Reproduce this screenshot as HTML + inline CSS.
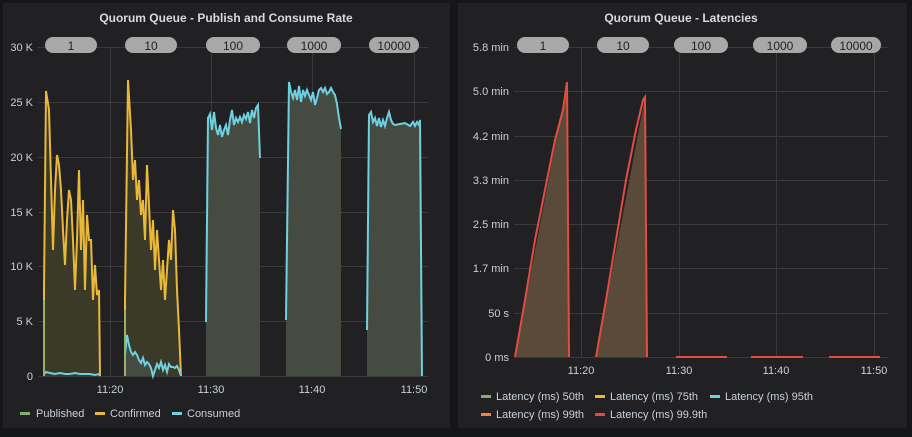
<!DOCTYPE html>
<html><head><style>
body{margin:0;background:#141619;width:912px;height:432px;overflow:hidden;font-family:"Liberation Sans",sans-serif}
</style></head><body>
<svg width="912" height="432" xmlns="http://www.w3.org/2000/svg" font-family="Liberation Sans, sans-serif">
<rect x="0" y="0" width="912" height="432" fill="#141619"/>
<rect x="3" y="3" width="447" height="425" fill="#212124"/>
<rect x="458" y="3" width="449" height="425" fill="#212124"/>
<text x="226" y="22" fill="#d8d9da" font-size="12" font-weight="bold" text-anchor="middle">Quorum Queue - Publish and Consume Rate</text>
<text x="681" y="22" fill="#d8d9da" font-size="12" font-weight="bold" text-anchor="middle">Quorum Queue - Latencies</text>
<g stroke="#3a3a3d" stroke-width="1">
<line x1="38" y1="47.5" x2="428" y2="47.5"/><line x1="38" y1="102.5" x2="428" y2="102.5"/><line x1="38" y1="157.5" x2="428" y2="157.5"/><line x1="38" y1="212.5" x2="428" y2="212.5"/><line x1="38" y1="266.5" x2="428" y2="266.5"/><line x1="38" y1="321.5" x2="428" y2="321.5"/><line x1="38" y1="376.5" x2="428" y2="376.5"/>
<line x1="110.5" y1="47" x2="110.5" y2="376"/><line x1="211.5" y1="47" x2="211.5" y2="376"/><line x1="312.5" y1="47" x2="312.5" y2="376"/><line x1="414.5" y1="47" x2="414.5" y2="376"/>
<line x1="514" y1="47.5" x2="888" y2="47.5"/><line x1="514" y1="91.5" x2="888" y2="91.5"/><line x1="514" y1="136.5" x2="888" y2="136.5"/><line x1="514" y1="180.5" x2="888" y2="180.5"/><line x1="514" y1="224.5" x2="888" y2="224.5"/><line x1="514" y1="268.5" x2="888" y2="268.5"/><line x1="514" y1="313.5" x2="888" y2="313.5"/><line x1="514" y1="357.5" x2="888" y2="357.5"/>
<line x1="581.5" y1="47" x2="581.5" y2="357"/><line x1="679.5" y1="47" x2="679.5" y2="357"/><line x1="776.5" y1="47" x2="776.5" y2="357"/><line x1="874.5" y1="47" x2="874.5" y2="357"/>
</g>
<g fill="#c7d0d9" font-size="11" text-anchor="end">
<text x="33" y="51">30 K</text><text x="33" y="106">25 K</text><text x="33" y="161">20 K</text><text x="33" y="216">15 K</text><text x="33" y="270">10 K</text><text x="33" y="325">5 K</text><text x="33" y="380">0</text>
<text x="509" y="51">5.8 min</text><text x="509" y="95">5.0 min</text><text x="509" y="140">4.2 min</text><text x="509" y="184">3.3 min</text><text x="509" y="228">2.5 min</text><text x="509" y="272">1.7 min</text><text x="509" y="317">50 s</text><text x="509" y="361">0 ms</text>
</g>
<g fill="#c7d0d9" font-size="11" text-anchor="middle">
<text x="110" y="163" dy="230">11:20</text><text x="211" y="393">11:30</text><text x="312" y="393">11:40</text><text x="414" y="393">11:50</text>
<text x="581" y="374">11:20</text><text x="679" y="374">11:30</text><text x="776" y="374">11:40</text><text x="874" y="374">11:50</text>
</g>
<!-- left series -->
<g>
<polygon fill="#3b3927" points="44,376 44,290 46,91 49,110 51,180 53,250 55,190 57,155 59,165 61,190 63,230 65,265 67,220 69,190 71,200 73,240 75,290 77,240 79,170 81,250 83,200 85,290 87,215 89,240 91,240 93,300 95,265 97,295 99,290 100,376"/>
<polygon fill="#3b3927" points="125,376 125,300 128,80 131,130 133,180 135,160 137,200 139,180 141,215 143,200 145,240 147,165 149,205 151,250 153,220 155,270 157,230 159,260 161,290 163,260 165,300 167,270 169,240 171,260 173,210 175,230 177,290 179,330 181,376"/>
<polygon fill="#454b40" points="125,376 125,355 127,335 129,345 131,352 133,355 135,352 137,355 139,360 141,363 143,358 145,365 147,362 149,364 151,368 153,376"/>
<polyline fill="none" stroke="#eab839" stroke-width="2" points="44,376 44,290 46,91 49,110 51,180 53,250 55,190 57,155 59,165 61,190 63,230 65,265 67,220 69,190 71,200 73,240 75,290 77,240 79,170 81,250 83,200 85,290 87,215 89,240 91,240 93,300 95,265 97,295 99,290 100,376"/>
<polyline fill="none" stroke="#eab839" stroke-width="2" points="125,376 125,300 128,80 131,130 133,180 135,160 137,200 139,180 141,215 143,200 145,240 147,165 149,205 151,250 153,220 155,270 157,230 159,260 161,290 163,260 165,300 167,270 169,240 171,260 173,210 175,230 177,290 179,330 181,376"/>
<polyline fill="none" stroke="#6ed0e0" stroke-width="2" points="44,374 46,372 50,373 55,374 60,373 65,374 70,374 75,373 80,374 85,374 90,374 95,375 99,374 100,376"/>
<polyline fill="none" stroke="#6ed0e0" stroke-width="2" points="125,355 127,335 129,345 131,352 133,355 135,352 137,355 139,360 141,363 143,358 145,365 147,362 149,364 151,368 153,376 155,370 157,364 159,368 161,362 163,370 165,365 167,372 169,364 171,367 173,367 175,368 177,366 179,370 181,376"/>
<line x1="44" y1="376" x2="44" y2="300" stroke="#7eb26d" stroke-width="1.5"/>
<line x1="125" y1="376" x2="125" y2="310" stroke="#7eb26d" stroke-width="1.5"/>
<polygon fill="#454b40" points="206,376 206,322 208,118 210,114 212,130 214,112 216,128 218,135 220,125 222,137 224,130 226,125 228,135 230,120 232,110 234,125 236,118 238,122 240,117 242,122 244,115 246,119 248,112 250,123 252,110 254,118 256,108 258,105 260,158 260,376"/>
<polyline fill="none" stroke="#6ed0e0" stroke-width="2" points="206,322 208,118 210,114 212,130 214,112 216,128 218,135 220,125 222,137 224,130 226,125 228,135 230,120 232,110 234,125 236,118 238,122 240,117 242,122 244,115 246,119 248,112 250,123 252,110 254,118 256,108 258,105 260,158"/>
<polygon fill="#454b40" points="286,376 286,320 289,82 291,92 293,98 295,90 297,100 299,86 301,102 303,90 305,96 307,90 309,95 311,100 313,92 315,105 317,98 319,90 321,88 323,92 325,88 327,94 329,92 331,88 333,92 335,95 337,104 339,118 341,129 341,376"/>
<polyline fill="none" stroke="#6ed0e0" stroke-width="2" points="286,320 289,82 291,92 293,98 295,90 297,100 299,86 301,102 303,90 305,96 307,90 309,95 311,100 313,92 315,105 317,98 319,90 321,88 323,92 325,88 327,94 329,92 331,88 333,92 335,95 337,104 339,118 341,129"/>
<polygon fill="#454b40" points="367,376 367,330 369,115 371,112 373,122 375,118 377,126 379,118 381,127 383,120 385,126 387,118 389,112 391,120 393,124 395,125 400,124 405,123 410,126 413,122 415,126 417,122 419,125 420,120 422,376"/>
<polyline fill="none" stroke="#6ed0e0" stroke-width="2" points="367,330 369,115 371,112 373,122 375,118 377,126 379,118 381,127 383,120 385,126 387,118 389,112 391,120 393,124 395,125 400,124 405,123 410,126 413,122 415,126 417,122 419,125 420,120 422,376"/>
</g>
<!-- right series -->
<polygon fill="#5a4a3a" points="515,357 567,82 569,357"/>
<polygon fill="#5a4a3a" points="596,357 645,97 647,357"/>
<polyline fill="none" stroke="#e24d42" stroke-width="2" points="515,357 525,300 535,240 545,190 555,140 563,110 567,82 569,357"/>
<polyline fill="none" stroke="#e24d42" stroke-width="2" points="596,357 606,300 616,240 626,180 636,130 643,100 645,97 647,357"/>
<g stroke="#e24d42" stroke-width="2"><line x1="676" y1="357" x2="727" y2="357"/><line x1="751" y1="357" x2="803" y2="357"/><line x1="829" y1="357" x2="880" y2="357"/></g>
<!-- badges -->
<g fill="#a8a8a8">
<rect x="45" y="37" width="52" height="16" rx="8"/><rect x="125" y="37" width="52" height="16" rx="8"/><rect x="206" y="37" width="54" height="16" rx="8"/><rect x="287" y="37" width="54" height="16" rx="8"/><rect x="369" y="37" width="50" height="16" rx="8"/>
<rect x="517" y="37" width="52" height="16" rx="8"/><rect x="597" y="37" width="52" height="16" rx="8"/><rect x="674" y="37" width="54" height="16" rx="8"/><rect x="753" y="37" width="54" height="16" rx="8"/><rect x="831" y="37" width="50" height="16" rx="8"/>
</g>
<g fill="#222" font-size="12" text-anchor="middle">
<text x="71" y="50">1</text><text x="151" y="50">10</text><text x="233" y="50">100</text><text x="314" y="50">1000</text><text x="394" y="50">10000</text>
<text x="543" y="50">1</text><text x="623" y="50">10</text><text x="701" y="50">100</text><text x="780" y="50">1000</text><text x="856" y="50">10000</text>
</g>
<!-- legends -->
<g font-size="11" fill="#c7d0d9">
<rect x="20" y="412" width="10" height="3" fill="#7eb26d"/><text x="36" y="417">Published</text>
<rect x="95" y="412" width="10" height="3" fill="#eab839"/><text x="110" y="417">Confirmed</text>
<rect x="172" y="412" width="10" height="3" fill="#6ed0e0"/><text x="187" y="417">Consumed</text>
<rect x="481" y="395" width="10" height="3" fill="#7eb26d"/><text x="496" y="400">Latency (ms) 50th</text>
<rect x="595" y="395" width="10" height="3" fill="#eab839"/><text x="610" y="400">Latency (ms) 75th</text>
<rect x="710" y="395" width="10" height="3" fill="#6ed0e0"/><text x="725" y="400">Latency (ms) 95th</text>
<rect x="481" y="413" width="10" height="3" fill="#ef843c"/><text x="496" y="418">Latency (ms) 99th</text>
<rect x="595" y="413" width="10" height="3" fill="#e24d42"/><text x="610" y="418">Latency (ms) 99.9th</text>
</g>
</svg>
</body></html>
